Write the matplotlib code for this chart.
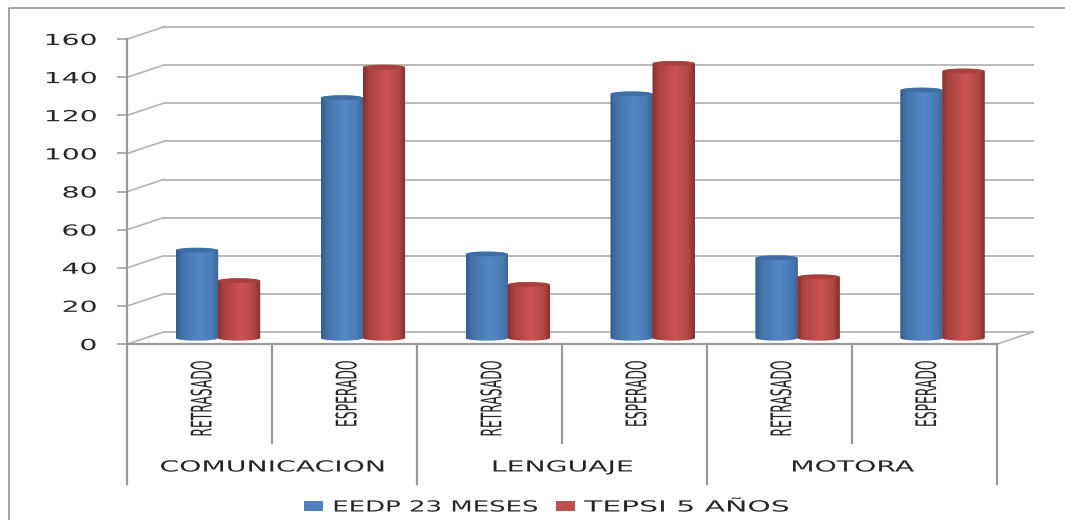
import numpy as np
import matplotlib
matplotlib.use("Agg")
import matplotlib.pyplot as plt
from matplotlib.lines import Line2D
from matplotlib.patches import Ellipse, Patch, PathPatch
from matplotlib.path import Path
from matplotlib.patheffects import AbstractPathEffect
from matplotlib.transforms import Affine2D, IdentityTransform, blended_transform_factory

# Chart data
groups = ["COMUNICACION", "LENGUAJE", "MOTORA"]
levels = ["RETRASADO", "ESPERADO", "RETRASADO", "ESPERADO", "RETRASADO", "ESPERADO"]
series_names = ["EEDP 23 MESES", "TEPSI 5 AÑOS"]
eedp_values = [46, 126, 44, 128, 42, 130]
tepsi_values = [30, 142, 28, 144, 32, 140]
y_ticks = [0, 20, 40, 60, 80, 100, 120, 140, 160]

W, H = 1065, 520
AX_L, AX_R, AX_T, AX_B = 127.5, 997.0, 39.0, 344.0
DEPTH_X, DEPTH_Y = 36.0, 12.0
GRID = "#b4b4b4"
AXIS = "#9a9a9a"
TEXT = "#262626"
SANS = ["DejaVu Sans"]
NARROW = ["Liberation Sans Narrow", "DejaVu Sans"]


class Stretch(AbstractPathEffect):
    """Scale a text's outline around one side of its own bounding box."""

    def __init__(self, text, sx=1.0, sy=1.0, anchor="center", vanchor="center", dx=0.0):
        super().__init__()
        self.text, self.sx, self.sy, self.dx = text, sx, sy, dx
        self.anchor, self.vanchor = anchor, vanchor

    def draw_path(self, renderer, gc, tpath, affine, rgbFace=None):
        box = self.text.get_window_extent(renderer)
        cx = {"left": box.x0, "right": box.x1, "center": (box.x0 + box.x1) / 2}[self.anchor]
        cy = {"top": box.y1, "center": (box.y0 + box.y1) / 2}[self.vanchor]
        scale = Affine2D().translate(-cx, -cy).scale(self.sx, self.sy).translate(cx + self.dx, cy)
        renderer.draw_path(gc, tpath, affine + scale, rgbFace)


fig = plt.figure(figsize=(W / 100, H / 100), dpi=100, facecolor="white")
ax = fig.add_axes([AX_L / W, 1 - AX_B / H, (AX_R - AX_L) / W, (AX_B - AX_T) / H])
ax.set_facecolor("none")
ax.set_xlim(0, 6)
ax.set_ylim(0, 160)
for spine in ax.spines.values():
    spine.set_visible(False)

to_px = IdentityTransform()
back_t = ax.transData + Affine2D().translate(DEPTH_X, DEPTH_Y)
mid_t = ax.transData + Affine2D().translate(DEPTH_X / 2, DEPTH_Y / 2)
x_data_y_px = blended_transform_factory(ax.transData, to_px)


def px_y(y_from_top):
    return H - y_from_top


# Outer frame: only the top and left edges are visible
fig.add_artist(Line2D([8.5, 8.5, W], [0, px_y(7.5), px_y(7.5)], transform=to_px,
                      color="#8c8c8c", lw=1.1))

# Back wall gridlines and side wall diagonals
for v in y_ticks:
    x0, y0 = ax.transData.transform((0, v))
    ax.add_line(Line2D([x0, x0 + DEPTH_X], [y0, y0 + DEPTH_Y], transform=to_px,
                       color=GRID, lw=1.2, clip_on=False, zorder=1))
    ax.plot([0, 6], [v, v], transform=back_t, color=GRID, lw=1.3, clip_on=False, zorder=1)

# Floor edge on the right
x1, y1 = ax.transData.transform((6, 0))
ax.add_line(Line2D([x1, x1 + DEPTH_X], [y1, y1 + DEPTH_Y], transform=to_px,
                   color=GRID, lw=1.2, clip_on=False, zorder=1))

# Front axes lines and the two-level category separators
ax.plot([0, 0], [0, 160], color=AXIS, lw=1.6, clip_on=False, zorder=2)
ax.plot([0, 6], [0, 0], color=AXIS, lw=1.6, clip_on=False, zorder=2)
for i in range(7):
    bottom = 484 if i % 2 == 0 else 443
    ax.plot([i, i], [px_y(AX_B), px_y(bottom)], transform=x_data_y_px,
            color=AXIS, lw=1.6, clip_on=False, zorder=2)


def gradient(stops):
    pos = np.linspace(0, 1, 64)
    at = [s[0] for s in stops]
    rgb = [matplotlib.colors.to_rgb(s[1]) for s in stops]
    return np.stack([np.interp(pos, at, [c[k] for c in rgb]) for k in range(3)], axis=1)[None, :, :]


BLUE_RAMP = gradient([(0, "#335f8e"), (0.15, "#4474aa"), (0.55, "#5387c8"), (0.85, "#4a7bb6"), (1, "#3a6696")])
RED_RAMP = gradient([(0, "#843230"), (0.15, "#ab4341"), (0.55, "#cb5452"), (0.85, "#b04644"), (1, "#7f302e")])
BAR_W = 0.293
SHIFT = 0.145
RY = 1.4  # half height of the cylinder caps, in value units


def cylinder(xc, value, ramp, cap_color, z):
    left, right = xc - BAR_W / 2, xc + BAR_W / 2
    t = np.linspace(np.pi, 2 * np.pi, 40)
    low = np.column_stack([xc + BAR_W / 2 * np.cos(t), RY * np.sin(t)])
    high = np.column_stack([xc - BAR_W / 2 * np.cos(t), value - RY * np.sin(t)])
    outline = Path(np.vstack([low, high, low[:1]]), closed=True)
    clip = PathPatch(outline, transform=mid_t, facecolor="none", edgecolor="none", zorder=z)
    ax.add_patch(clip)
    im = ax.imshow(ramp, extent=(left, right, -RY, value + RY), transform=mid_t, aspect="auto",
                   interpolation="bilinear", zorder=z)
    im.set_clip_path(clip)
    ax.add_patch(Ellipse((xc, value), BAR_W * 0.97, RY * 1.7, transform=mid_t,
                         facecolor=cap_color, edgecolor="none", zorder=z + 0.1))


for i, (a, b) in enumerate(zip(eedp_values, tepsi_values)):
    cylinder(i + 0.5 - SHIFT, a, BLUE_RAMP, "#3f6ea6", 3 + i)
    cylinder(i + 0.5 + SHIFT, b, RED_RAMP, "#a8403e", 3.5 + i)

ax.set_xlim(0, 6)
ax.set_ylim(0, 160)
ax.set_aspect("auto")

# Value axis labels
ax.set_yticks(y_ticks)
ax.tick_params(axis="y", length=7.2, width=1.1, color=AXIS, pad=14.6, labelsize=11, labelcolor=TEXT)
for lab in ax.get_yticklabels():
    lab.set_fontfamily(SANS)
    lab.set_path_effects([Stretch(lab, sx=1.85, anchor="right")])

# Lower level: rotated, condensed status labels
ax.set_xticks(np.arange(6) + 0.5, levels, rotation=90, va="top", ha="center")
ax.tick_params(axis="x", length=0, pad=12, labelsize=12, labelcolor=TEXT)
for lab in ax.get_xticklabels():
    lab.set_fontfamily(NARROW)
    lab.set_path_effects([Stretch(lab, sx=1.7, sy=0.74, vanchor="top", dx=3)])

# Upper level: domain names centred under each pair of statuses
for k, name in enumerate(groups):
    t = ax.text(2 * k + 1, px_y(467), name, transform=x_data_y_px, ha="center", va="center",
                fontsize=11, color=TEXT, family=SANS, clip_on=False)
    t.set_path_effects([Stretch(t, sx=1.85)])

# Legend along the bottom edge
handles = [Patch(facecolor="#4f81bd"), Patch(facecolor="#c0504d")]
leg = fig.legend(handles, series_names, ncol=2, loc="center left", frameon=False,
                 bbox_to_anchor=(304 / W, 1 - 507 / H), borderpad=0, borderaxespad=0,
                 fontsize=11, handlelength=1.25, handleheight=0.6, handletextpad=0.6,
                 columnspacing=6.7, labelcolor=TEXT)
for t, sx in zip(leg.get_texts(), [1.7, 1.95]):
    t.set_fontfamily(SANS)
    t.set_path_effects([Stretch(t, sx=sx, anchor="left")])

fig.savefig("out.png", dpi=100)
